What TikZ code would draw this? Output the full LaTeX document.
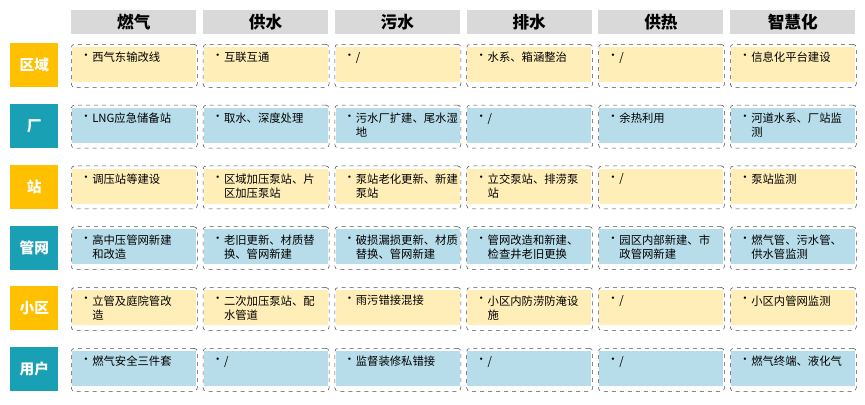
\documentclass[tikz,border=0pt]{standalone}
\usepackage{fontspec}
\setmainfont{Noto Sans CJK SC}
\usetikzlibrary{calc,positioning}
\definecolor{hdrgray}{HTML}{D9D9D9}
\definecolor{lblyellow}{HTML}{FFC000}
\definecolor{lblteal}{HTML}{1AA0B4}
\definecolor{fillyellow}{HTML}{FFEEB8}
\definecolor{fillblue}{HTML}{B7DDEA}
\tikzset{
  header/.style={fill=hdrgray,minimum width=125*0.75pt,minimum height=24*0.75pt,inner sep=0pt,anchor=north west,font=\fontsize{12.5}{14}\selectfont\bfseries},
  rowlabel/.style={minimum width=48*0.75pt,minimum height=44*0.75pt,inner sep=0pt,anchor=north west,text=white,font=\fontsize{11}{12}\selectfont\bfseries},
  cellframe/.style={draw=black!70,dashed,rounded corners=2.5pt,minimum width=126*0.75pt,minimum height=43*0.75pt,inner sep=0pt,anchor=north west},
  celltext/.style={anchor=north west,inner sep=0pt,align=left,font=\fontsize{8.5}{10.5}\selectfont}
}
% one cell: column, row, text
\newcommand\cellbox[3]{
  \coordinate (p-#2-#1) at ({71+131.8*(#1-1)},{44+60.8*(#2-1)});
  \fill[\rowfill] ($(p-#2-#1)+(1,3)$) rectangle ($(p-#2-#1)+(125,38)$);
  \node[cellframe] (c-#2-#1) at (p-#2-#1) {};
  \node[celltext] (b-#2-#1) at ($(p-#2-#1)+(9,10)$) {•};
  \node[celltext] (t-#2-#1) at ($(p-#2-#1)+(21,8)$) {#3};
}
\begin{document}
\begin{tikzpicture}[x=0.75pt,y=-0.75pt]
  \useasboundingbox (0,0) rectangle (865,404);

  % column headers
  \foreach \h [count=\i] in {燃气,供水,污水,排水,供热,智慧化}
    \node[header] (h-\i) at ({71+131.8*(\i-1)},10) {\h};

  % row labels
  \foreach \l/\c [count=\j] in {区域/lblyellow,厂/lblteal,站/lblyellow,管网/lblteal,小区/lblyellow,用户/lblteal}
    \node[rowlabel,fill=\c] (r-\j) at (10,{43+60.8*(\j-1)}) {\l};

  \def\rowfill{fillyellow}
  \cellbox{1}{1}{西气东输改线}
  \cellbox{2}{1}{互联互通}
  \cellbox{3}{1}{/}
  \cellbox{4}{1}{水系、箱涵整治}
  \cellbox{5}{1}{/}
  \cellbox{6}{1}{信息化平台建设}

  \def\rowfill{fillblue}
  \cellbox{1}{2}{LNG应急储备站}
  \cellbox{2}{2}{取水、深度处理}
  \cellbox{3}{2}{污水厂扩建、尾水湿\\地}
  \cellbox{4}{2}{/}
  \cellbox{5}{2}{余热利用}
  \cellbox{6}{2}{河道水系、厂站监\\测}

  \def\rowfill{fillyellow}
  \cellbox{1}{3}{调压站等建设}
  \cellbox{2}{3}{区域加压泵站、片\\区加压泵站}
  \cellbox{3}{3}{泵站老化更新、新建\\泵站}
  \cellbox{4}{3}{立交泵站、排涝泵\\站}
  \cellbox{5}{3}{/}
  \cellbox{6}{3}{泵站监测}

  \def\rowfill{fillblue}
  \cellbox{1}{4}{高中压管网新建\\和改造}
  \cellbox{2}{4}{老旧更新、材质替\\换、管网新建}
  \cellbox{3}{4}{破损漏损更新、材质\\替换、管网新建}
  \cellbox{4}{4}{管网改造和新建、\\检查井老旧更换}
  \cellbox{5}{4}{园区内部新建、市\\政管网新建}
  \cellbox{6}{4}{燃气管、污水管、\\供水管监测}

  \def\rowfill{fillyellow}
  \cellbox{1}{5}{立管及庭院管改\\造}
  \cellbox{2}{5}{二次加压泵站、配\\水管道}
  \cellbox{3}{5}{雨污错接混接}
  \cellbox{4}{5}{小区内防涝防淹设\\施}
  \cellbox{5}{5}{/}
  \cellbox{6}{5}{小区内管网监测}

  \def\rowfill{fillblue}
  \cellbox{1}{6}{燃气安全三件套}
  \cellbox{2}{6}{/}
  \cellbox{3}{6}{监督装修私错接}
  \cellbox{4}{6}{/}
  \cellbox{5}{6}{/}
  \cellbox{6}{6}{燃气终端、液化气}
\end{tikzpicture}
\end{document}
